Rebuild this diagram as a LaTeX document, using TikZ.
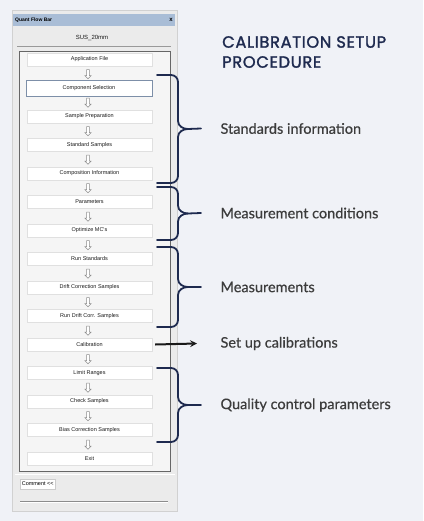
\documentclass[tikz,border=0pt]{standalone}
\usepackage{fontspec}
\setmainfont{Lato}[FakeBold=0.5]
\newfontfamily\titlefont{Poppins}[FakeBold=1.6, LetterSpace=4]
\newfontfamily\winfont{Liberation Sans}
\usepackage{tikz}
\usetikzlibrary{positioning, arrows, shapes.arrows}
\usepackage{xcolor}

\definecolor{pagebg}{HTML}{F0F2F7}
\definecolor{navy}{HTML}{1E2A4F}
\definecolor{labelgray}{HTML}{3C3C3C}
\definecolor{winbody}{HTML}{EBEBEB}
\definecolor{titlebar}{HTML}{A9BDD6}
\definecolor{hilite}{HTML}{7D8FA8}

% brace from top y to bottom y, tip ending before the label
\newcommand{\groupbrace}[3]{%
  \draw[grpbrace] (157,#1) -- (171,#1) to[out=0, in=90] (178,{#1+7})
    -- (178,{(#1+#2)/2-8}) to[out=-90, in=180] (188,{(#1+#2)/2})
    -- ([xshift=-16pt]#3.west);
  \draw[grpbrace] (188,{(#1+#2)/2}) to[out=180, in=90] (178,{(#1+#2)/2+8})
    -- (178,{#2-7}) to[out=-90, in=0] (171,#2) -- (157,#2);
}

\begin{document}
\begin{tikzpicture}[x=1pt, y=-1pt, >=stealth,
  flowbtn/.style={draw=black!12, fill=white, minimum width=125pt,
    minimum height=13pt, inner sep=0pt, font=\winfont\fontsize{5.5}{6}\selectfont,
    text=black!90},
  flowarr/.style={single arrow, shape border rotate=270, draw=black!45,
    fill=white, line width=0.5pt, inner sep=1.2pt, minimum height=9pt,
    single arrow head extend=1.6pt},
  grpbrace/.style={draw=navy, line width=1.8pt, line cap=round},
  steplabel/.style={anchor=west, text=labelgray, font=\fontsize{14.5}{16}\selectfont}
]
  \useasboundingbox[fill=pagebg] (0,0) rectangle (423,521);

  % Window frame of the flow bar
  \draw[fill=winbody, draw=black!18] (12,10) rectangle (177,511);
  \fill[titlebar] (13,14) rectangle (175,26);
  \node[anchor=west, inner sep=0pt, font=\winfont\bfseries\fontsize{5}{6}\selectfont]
    (wintitle) at (15,20) {Quant Flow Bar};
  \node[inner sep=0pt, font=\winfont\bfseries\fontsize{6}{6}\selectfont]
    (winclose) at (171,20) {x};
  \node[font=\winfont\fontsize{6}{7}\selectfont, text=black!90]
    (method) at (92,38) {SUS\_20mm};
  \draw[black!40] (17,46) -- (171,46);
  \draw[fill=black!4, draw=black!60, line width=0.6pt] (19,51) rectangle (170,471);

  % Buttons of the flow bar
  \node[flowbtn] (appfile)   at (89.5,59.5)  {Application File};
  \node[flowbtn, draw=hilite, line width=0.7pt, minimum width=126pt,
        minimum height=16pt] (compsel) at (89,88) {Component Selection};
  \node[flowbtn] (sampprep)  at (89.5,116.5) {Sample Preparation};
  \node[flowbtn] (stdsamp)   at (89.5,145)   {Standard Samples};
  \node[flowbtn] (compinfo)  at (89.5,173.5) {Composition Information};
  \node[flowbtn] (params)    at (89.5,202)   {Parameters};
  \node[flowbtn] (optmc)     at (89.5,230.5) {Optimize MC's};
  \node[flowbtn] (runstd)    at (89.5,259)   {Run Standards};
  \node[flowbtn] (driftsamp) at (89.5,287.5) {Drift Correction Samples};
  \node[flowbtn] (rundrift)  at (89.5,316)   {Run Drift Corr. Samples};
  \node[flowbtn] (calib)     at (89.5,344.5) {Calibration};
  \node[flowbtn] (limits)    at (89.5,373)   {Limit Ranges};
  \node[flowbtn] (checksamp) at (89.5,401.5) {Check Samples};
  \node[flowbtn] (biassamp)  at (89.5,430)   {Bias Correction Samples};
  \node[flowbtn] (exitbtn)   at (89.5,458.5) {Exit};

  % Hollow arrows between the buttons
  \node[flowarr] (arr1)  at (88,73.5)  {};
  \node[flowarr] (arr2)  at (88,102)   {};
  \node[flowarr] (arr3)  at (88,130.5) {};
  \node[flowarr] (arr4)  at (88,159)   {};
  \node[flowarr] (arr5)  at (88,187.5) {};
  \node[flowarr] (arr6)  at (88,216)   {};
  \node[flowarr] (arr7)  at (88,244.5) {};
  \node[flowarr] (arr8)  at (88,273)   {};
  \node[flowarr] (arr9)  at (88,301.5) {};
  \node[flowarr] (arr10) at (88,330)   {};
  \node[flowarr] (arr11) at (88,358.5) {};
  \node[flowarr] (arr12) at (88,387)   {};
  \node[flowarr] (arr13) at (88,415.5) {};
  \node[flowarr] (arr14) at (88,444)   {};

  % Lower part of the window
  \draw[white, line width=0.8pt] (15,474) -- (175,474);
  \node[draw=black!20, fill=white, inner sep=1.5pt, minimum height=10pt,
        minimum width=35pt, font=\winfont\fontsize{5.5}{6}\selectfont, anchor=west]
    (comment) at (20,484) {Comment <<};
  \draw[black!45, line width=0.7pt] (20,501) -- (168,501);
  \draw[white, line width=0.7pt] (20,502.5) -- (168,502.5);

  % Title
  \node[anchor=north west, align=left, inner sep=0pt, text=navy,
        font=\titlefont\fontsize{16.3}{20}\selectfont]
    (title) at (222,36) {CALIBRATION SETUP\\PROCEDURE};

  % Labels on the right
  \node[steplabel] (stdinfo)  at (217,128.5) {Standards information};
  \node[steplabel] (meascond) at (217,213)   {Measurement conditions};
  \node[steplabel] (meas)     at (217,287)   {Measurements};
  \node[steplabel] (setup)    at (217,343.5) {Set up calibrations};
  \node[steplabel] (qcparam)  at (217,405)   {Quality control parameters};

  % Braces grouping the steps
  \groupbrace{75}{183}{stdinfo}
  \groupbrace{187}{240}{meascond}
  \groupbrace{247}{327}{meas}
  \groupbrace{368}{442}{qcparam}

  % Arrow from the calibration step
  \draw[->, line width=2pt, black!90] ([xshift=3pt]calib.east) -- ([xshift=-20pt]setup.west);
\end{tikzpicture}
\end{document}
